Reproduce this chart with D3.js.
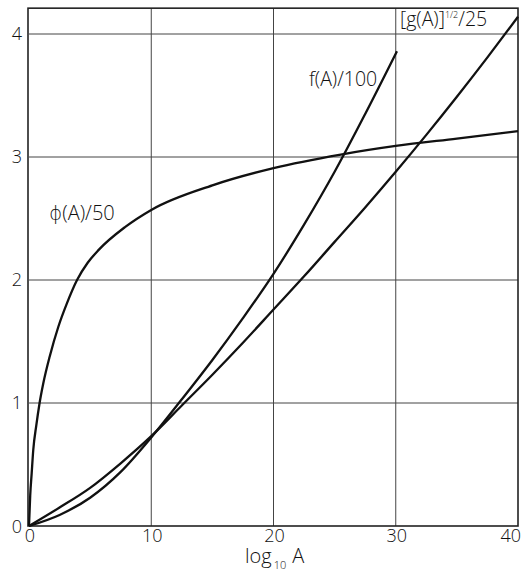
<!DOCTYPE html>
<html>
<head>
<meta charset="utf-8">
<script src="https://cdn.jsdelivr.net/npm/d3@7"></script>
<style>
  body { margin: 0; background: #fff; }
  svg text { font-family: "Open Sans", "DejaVu Sans", sans-serif; font-weight: 300; fill: #111; }
</style>
</head>
<body>
<svg width="526" height="577"></svg>
<script>
// values
var xTicks = [0, 10, 20, 30, 40];
var yTicks = [0, 1, 2, 3, 4];

var phiA = [0, 0.1, 0.22, 0.35, 0.6, 0.85, 1.17, 1.7, 2.4, 3.1, 3.93, 4.8, 5.7, 7.85, 10, 15, 20, 25.5, 30, 35, 40];
var phiV = [0, 0.25, 0.43, 0.62, 0.82, 0.99, 1.16, 1.38, 1.62, 1.81, 2.0, 2.14, 2.245, 2.43, 2.57, 2.77, 2.91, 3.02, 3.09, 3.15, 3.21];

var fA = [0, 2.5, 5, 7.5, 10, 12.5, 15, 17.5, 20, 22.5, 25, 27.5, 30.1];
var fV = [0, 0.09, 0.23, 0.44, 0.72, 1.03, 1.35, 1.69, 2.05, 2.45, 2.88, 3.35, 3.86];

var gA = [0, 2.5, 5, 7.5, 10, 12.5, 15, 17.5, 20, 22.5, 25, 27.5, 30, 32.5, 35, 37.5, 40];
var gV = [0, 0.15, 0.31, 0.51, 0.73, 0.98, 1.23, 1.49, 1.76, 2.03, 2.31, 2.59, 2.88, 3.18, 3.49, 3.81, 4.14];

var svg = d3.select("svg");

var x = d3.scaleLinear().domain([0, 40]).range([29, 518]);
var y = d3.scaleLinear().domain([0, 4]).range([526, 34]);
var yTop = 4.21;

// grid
var grid = svg.append("g").attr("stroke", "#444").attr("stroke-width", 1);
grid.selectAll("line.v")
    .data(xTicks.slice(1, -1))
    .enter().append("line")
      .attr("x1", function(d) { return x(d); })
      .attr("x2", function(d) { return x(d); })
      .attr("y1", y(0))
      .attr("y2", y(yTop));
grid.selectAll("line.h")
    .data(yTicks.slice(1))
    .enter().append("line")
      .attr("x1", x(0))
      .attr("x2", x(40))
      .attr("y1", function(d) { return y(d); })
      .attr("y2", function(d) { return y(d); });

// frame
svg.append("rect")
    .attr("x", x(0) - 1)
    .attr("y", y(yTop))
    .attr("width", x(40) - x(0) + 1)
    .attr("height", y(0) - y(yTop))
    .attr("fill", "none")
    .attr("stroke", "#222")
    .attr("stroke-width", 1.6);

// tick labels
svg.selectAll("text.xt")
    .data(xTicks)
    .enter().append("text")
      .attr("x", function(d) { return d == 40 ? x(d) + 3 : x(d) + 1; })
      .attr("y", 542)
      .attr("text-anchor", function(d) { return d == 40 ? "end" : "middle"; })
      .attr("font-size", 18)
      .text(function(d) { return d; });

svg.selectAll("text.yt")
    .data(yTicks)
    .enter().append("text")
      .attr("x", 22)
      .attr("y", function(d) { return d == 0 ? y(d) + 7 : y(d) + 6; })
      .attr("text-anchor", "end")
      .attr("font-size", 18)
      .text(function(d) { return d; });

// axis title
var title = svg.append("text")
    .attr("x", 245)
    .attr("y", 563)
    .attr("font-size", 20);
title.append("tspan").text("log");
title.append("tspan").attr("font-size", 11).attr("dx", 2).attr("dy", 6).text("10");
title.append("tspan").attr("dx", 6).attr("dy", -6).text("A");

// curves
var line = d3.line()
    .x(function(d) { return x(d[0]); })
    .y(function(d) { return y(d[1]); })
    .curve(d3.curveMonotoneX);

var series = [d3.zip(phiA, phiV), d3.zip(fA, fV), d3.zip(gA, gV)];
svg.append("g")
  .selectAll("path")
  .data(series)
  .enter().append("path")
    .attr("d", line)
    .attr("fill", "none")
    .attr("stroke", "#111")
    .attr("stroke-width", 2.3);

// curve labels
svg.append("text")
    .attr("x", 49).attr("y", 220)
    .attr("font-size", 20)
    .text("\u03d5(A)/50");

svg.append("text")
    .attr("x", 309).attr("y", 86)
    .attr("font-size", 19.5)
    .text("f(A)/100");

var gl = svg.append("text")
    .attr("x", 400).attr("y", 26)
    .attr("font-size", 19.5);
gl.append("tspan").text("[g(A)]");
gl.append("tspan").attr("font-size", 9).attr("dy", -8).text("1/2");
gl.append("tspan").attr("dy", 8).text("/25");
</script>
</body>
</html>
